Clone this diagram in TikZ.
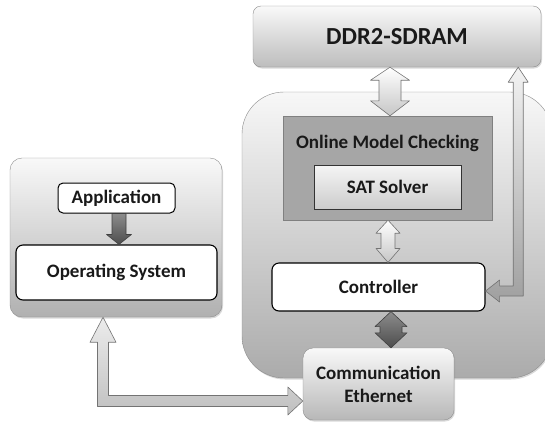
\documentclass[tikz,border=0pt]{standalone}
\usepackage{fontspec}
\setmainfont{Carlito}
\usetikzlibrary{shadows,calc}

\tikzset{
  boxtext/.style = {font=\fontsize{19}{22}\selectfont\bfseries, text=black!90},
  graybox/.style = {draw=gray!90, rounded corners=8pt, top color=gray!5, bottom color=gray!52, inner sep=0pt,
                    drop shadow={opacity=.3, shadow xshift=1pt, shadow yshift=-1.5pt}},
  whitebox/.style = {draw=black, line width=1.1pt, fill=white, rounded corners=7pt, inner sep=0pt},
  lightarrow/.style = {draw=black!55, line width=.6pt, top color=white, bottom color=gray!45, line join=round},
  darkarrow/.style = {draw=black!75, line width=.6pt, top color=black!45, bottom color=black!70, line join=round},
  hollowarrow/.style = {draw=black!55, line width=.6pt, top color=gray!15, bottom color=gray!50, line join=round}
}

\begin{document}
\begin{tikzpicture}[x=1pt, y=-1pt]
    \useasboundingbox (0,0) rectangle (545,421);

    % board side
    \node[graybox, rounded corners=42pt, top color=gray!6, bottom color=gray!66,
          minimum width=310, minimum height=286] (board) at (397,235) {};
    \node[graybox, minimum width=288, minimum height=61] (ddr) at (397,36.5)
         {\fontsize{24.5}{28}\selectfont\bfseries\color{black!90}DDR2-SDRAM};

    \node[draw=gray, fill=gray!70, minimum width=209, minimum height=104, inner sep=0pt,
          drop shadow={opacity=.25, shadow xshift=1pt, shadow yshift=-1pt}] (omc) at (387.5,168) {};
    \node[boxtext] (omctitle) at (387.5,143) {Online Model Checking};
    \node[draw=black!80, top color=gray!8, bottom color=gray!40, minimum width=147, minimum height=44,
          inner sep=0pt, boxtext] (sat) at (387.5,187) {SAT Solver};

    \node[whitebox, minimum width=213, minimum height=48, boxtext] (ctrl) at (378.5,287) {Controller};
    \node[graybox, rounded corners=10pt, bottom color=gray!56, minimum width=151, minimum height=72,
          align=center, boxtext] (eth) at (378.5,384) {Communication\\[1pt]Ethernet};

    % host side
    \node[graybox, rounded corners=12pt, bottom color=gray!62, minimum width=212, minimum height=159] (host) at (116,237.5) {};
    \node[whitebox, line width=1pt, rounded corners=5pt, minimum width=117, minimum height=30, boxtext] (app) at (116.5,198) {Application};
    \node[whitebox, minimum width=201, minimum height=55, boxtext] (os) at (116.5,272.5) {Operating System};

    % straight arrows
    \coordinate (a1t) at ($(ddr.south)+(-7,0)$);
    \coordinate (a1b) at (a1t |- omc.north);
    \draw[lightarrow] (a1t) -- ++(19.5,13) -- ++(-8.5,0) -- ($(a1b)+(11,-15)$) -- ++(8.5,0)
        -- (a1b) -- ++(-19.5,-15) -- ++(8.5,0) -- ($(a1t)+(-11,13)$) -- ++(-8.5,0) -- cycle;

    \coordinate (a2t) at ($(omc.south)+(0.5,0)$);
    \coordinate (a2b) at (a2t |- ctrl.north);
    \draw[lightarrow] (a2t) -- ++(12,13) -- ++(-5,0) -- ($(a2b)+(7,-14)$) -- ++(5,0)
        -- (a2b) -- ++(-12,-14) -- ++(5,0) -- ($(a2t)+(-7,13)$) -- ++(-5,0) -- cycle;

    \coordinate (a3t) at ($(ctrl.south)+(12.5,0)$);
    \coordinate (a3b) at (a3t |- eth.north);
    \draw[darkarrow] (a3t) -- ++(16,15) -- ++(-5,0) -- ($(a3b)+(11,-15)$) -- ++(5,0)
        -- (a3b) -- ++(-16,-15) -- ++(5,0) -- ($(a3t)+(-11,15)$) -- ++(-5,0) -- cycle;

    \coordinate (a4t) at ($(app.south)+(2.5,0)$);
    \coordinate (a4b) at (a4t |- os.north);
    \draw[darkarrow] (a4t) -- ++(7,0) -- ($(a4b)+(7,-10)$) -- ++(5.5,0)
        -- (a4b) -- ++(-12.5,-10) -- ++(5.5,0) -- ($(a4t)+(-7,0)$) -- cycle;

    % bent arrows
    \coordinate (hostin) at ($(host.south)+(-13,0)$);
    \coordinate (ethin) at ($(eth.west)+(0,17)$);
    \draw[hollowarrow] (hostin) -- ++(13,25) -- ++(-7.5,0)
        -- ($(hostin |- ethin)+(5.5,-5.5)$) -- ($(ethin)+(-15,-5.5)$) -- ++(0,-8.5)
        -- (ethin) -- ++(-15,14) -- ++(0,-8.5)
        -- ($(hostin |- ethin)+(-5.5,5.5)$) -- ($(hostin)+(-5.5,25)$) -- ++(-7.5,0) -- cycle;

    \coordinate (ddrin) at ($(ddr.south east)+(-23,0)$);
    \coordinate (ctrlin) at ($(ctrl.east)+(0,4)$);
    \draw[hollowarrow, top color=gray!10, bottom color=gray!75] (ddrin) -- ++(10,15) -- ++(-5,0)
        -- ($(ddrin |- ctrlin)+(5,5)$) -- ($(ctrlin)+(14,5)$) -- ++(0,6)
        -- (ctrlin) -- ++(14,-11) -- ++(0,6)
        -- ($(ddrin |- ctrlin)+(-5,-5)$) -- ($(ddrin)+(-5,15)$) -- ++(-5,0) -- cycle;
\end{tikzpicture}
\end{document}
